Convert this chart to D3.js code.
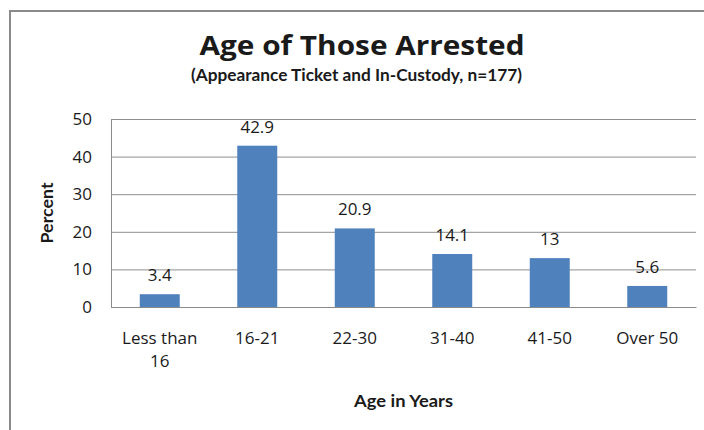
<!DOCTYPE html>
<html>
<head>
<meta charset="utf-8">
<script src="https://cdn.jsdelivr.net/npm/d3@7"></script>
<style>
  html, body { margin: 0; padding: 0; background: #fff; }
  svg { display: block; }
  text { font-family: "Open Sans", Lato, sans-serif; fill: #1a1a1a; }
</style>
</head>
<body>
<svg id="chart" width="704" height="430"></svg>
<script>
const categories = ["Less than 16", "16-21", "22-30", "31-40", "41-50", "Over 50"];
const percents = [3.4, 42.9, 20.9, 14.1, 13, 5.6];
const valueLabels = ["3.4", "42.9", "20.9", "14.1", "13", "5.6"];
const yTicks = [0, 10, 20, 30, 40, 50];
const titleText = "Age of Those Arrested";
const subtitleText = "(Appearance Ticket and In-Custody, n=177)";
const xTitle = "Age in Years";
const yTitle = "Percent";

const svg = d3.select("#chart");
const plot = { left: 111, right: 696, top: 119, bottom: 307 };

// chart frame (extends past right/bottom edges)
svg.append("rect")
  .attr("x", 10).attr("y", 11)
  .attr("width", 760).attr("height", 480)
  .attr("fill", "#fff")
  .attr("stroke", "#8a8a8a")
  .attr("stroke-width", 2);

const x = d3.scaleBand()
  .domain(categories)
  .range([plot.left, plot.right])
  .paddingInner(0.59)
  .paddingOuter(0.295);

const y = d3.scaleLinear()
  .domain([0, 50])
  .range([plot.bottom, plot.top]);

// y axis with gridlines
const yAxis = svg.append("g")
  .attr("transform", `translate(${plot.left},0)`)
  .call(d3.axisLeft(y).tickValues(yTicks)
    .tickSize(-(plot.right - plot.left))
    .tickPadding(19)
    .tickFormat(d3.format("d")));
yAxis.select(".domain").attr("stroke", "#8a8a8a");
yAxis.selectAll(".tick line").attr("stroke", "#8e8e8e").attr("stroke-width", 1);
yAxis.selectAll(".tick text")
  .style("font-size", "17px")
  .attr("fill", "#1a1a1a");

// x axis
const xAxis = svg.append("g")
  .attr("transform", `translate(0,${plot.bottom})`)
  .call(d3.axisBottom(x).tickSize(0).tickPadding(0));
xAxis.select(".domain").attr("stroke", "#8a8a8a");
xAxis.selectAll(".tick text")
  .style("font-size", "17px")
  .attr("fill", "#1a1a1a")
  .attr("dy", null)
  .each(function(d) {
    const t = d3.select(this);
    t.text(null);
    const words = d.split(" ");
    const lines = words.length > 2
      ? [words.slice(0, -1).join(" "), words[words.length - 1]]
      : [d];
    lines.forEach((ln, i) => {
      t.append("tspan").attr("x", 0).attr("y", 37 + i * 23).text(ln);
    });
  });

// bars
svg.append("g").selectAll("rect")
  .data(percents)
  .join("rect")
  .attr("x", (d, i) => x(categories[i]))
  .attr("y", d => y(d))
  .attr("width", x.bandwidth())
  .attr("height", d => y(0) - y(d))
  .attr("fill", "#4F81BD");

// value labels
svg.append("g").selectAll("text")
  .data(percents)
  .join("text")
  .attr("x", (d, i) => x(categories[i]) + x.bandwidth() / 2)
  .attr("y", d => y(d) - 13)
  .attr("text-anchor", "middle")
  .style("font-size", "17px")
  .text((d, i) => valueLabels[i]);

// titles
svg.append("text")
  .attr("x", 362).attr("y", 55)
  .attr("text-anchor", "middle")
  .attr("textLength", 325).attr("lengthAdjust", "spacingAndGlyphs")
  .style("font-size", "26px").style("font-weight", "bold")
  .text(titleText);

svg.append("text")
  .attr("x", 356.5).attr("y", 81)
  .attr("text-anchor", "middle")
  .attr("textLength", 331).attr("lengthAdjust", "spacingAndGlyphs")
  .style("font-family", "Lato, 'Open Sans', sans-serif")
  .style("font-size", "17px").style("font-weight", "bold")
  .text(subtitleText);

svg.append("text")
  .attr("x", (plot.left + plot.right) / 2).attr("y", 407)
  .attr("text-anchor", "middle")
  .attr("textLength", 99).attr("lengthAdjust", "spacingAndGlyphs")
  .style("font-family", "Lato, 'Open Sans', sans-serif")
  .style("font-size", "17.5px").style("font-weight", "bold")
  .text(xTitle);

svg.append("text")
  .attr("transform", `translate(53,${(plot.top + plot.bottom) / 2}) rotate(-90)`)
  .attr("text-anchor", "middle")
  .attr("textLength", 61).attr("lengthAdjust", "spacingAndGlyphs")
  .style("font-family", "Lato, 'Open Sans', sans-serif")
  .style("font-size", "17.5px").style("font-weight", "bold")
  .text(yTitle);
</script>
</body>
</html>
